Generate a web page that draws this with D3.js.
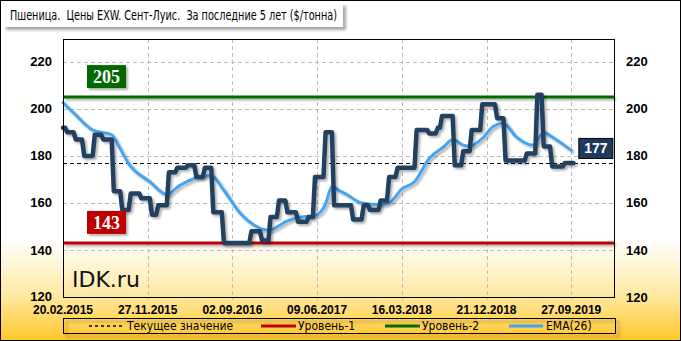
<!DOCTYPE html>
<html><head><meta charset="utf-8">
<script src="https://cdn.jsdelivr.net/npm/d3@7"></script>
<style>body{margin:0;background:#fff}svg{display:block}</style>
</head><body>
<script>
// ---------- DATA ----------
const titleText = "Пшеница.  Цены EXW. Сент-Луис.  За последние 5 лет ($/тонна)";
const tickWeeks = [0, 40, 80, 120, 160, 200, 240];
const tickLabels = ["20.02.2015", "27.11.2015", "02.09.2016", "09.06.2017", "16.03.2018", "21.12.2018", "27.09.2019"];
const yTicks = [120, 140, 160, 180, 200, 220];
// weekly price, $/t (week 0 = 20.02.2015)
const price = [
 192,192,190,190,190,190,187,187,187,187,
 180,180,180,180,180,189,189,189,189,187,
 187,187,187,187,165,165,165,165,157,157,
 157,157,164,164,164,164,164,162,162,162,
 162,162,155,155,155,159,159,159,159,159,
 173,173,173,173,175,175,175,175,175,176,
 176,176,176,171,171,171,171,175,175,175,
 175,156,156,156,156,156,143,143,143,143,
 143,143,143,143,143,143,143,143,143,148,
 148,148,148,148,144,144,144,144,154,154,
 154,154,161,161,161,161,156,156,156,156,
 156,152,152,152,152,152,154,154,154,171,
 171,171,171,171,190,190,190,190,159,159,
 159,159,159,159,159,159,159,153,153,153,
 153,153,159,159,159,157,157,157,157,157,
 161,161,161,161,171,171,171,171,175,175,
 175,175,175,175,175,175,175,191,191,191,
 191,191,191,189.5,189.5,189.5,189.5,192,192,197,
 197,197,197,197,197,176,176,176,176,182,
 182,182,182,191,191,191,191,191,202,202,
 202,202,202,202,202,196,196,196,196,178,
 178,178,178,178,178,178,178,178,178,181,
 181,181,181,181,206,206,206,184,184,184,
 184,175.5,175.5,175.5,175.5,175.5,175.5,177,177,177,
 177,177
];
const emaWeeks  = [0, 6, 14, 23, 27, 31, 41, 49, 55, 63, 70, 76, 84, 90, 97, 106, 112, 119, 124, 127, 130, 134, 141, 150, 154, 160, 166, 173, 180, 184, 189, 192, 198, 203, 208, 214, 222, 227, 232, 240];
const emaValues = [202.7, 197.4, 191, 189, 183, 176.7, 169, 163.6, 167.4, 170.7, 171.7, 165.3, 155.3, 150.7, 148.4, 152.4, 153.9, 154.6, 159.6, 167, 165.5, 163.6, 160, 159.3, 160, 166, 169, 179, 184, 187, 184.6, 184.1, 187.4, 192.4, 193.9, 188.1, 184.6, 189.9, 187.4, 182.4];
const level1 = 143, level2 = 205, currentValue = 177;
const legendItems = ["Текущее значение", "Уровень-1", "Уровень-2", "EMA(26)"];

// ---------- CHART ----------
const W = 681, H = 341;
const L = 63, R = 614, T = 39, B = 297;
const svg = d3.select("body").append("svg").attr("width", W).attr("height", H);
const defs = svg.append("defs");
const g1 = defs.append("linearGradient").attr("id", "bg").attr("x1", 0).attr("y1", 0).attr("x2", 0).attr("y2", 1);
g1.append("stop").attr("offset", 0.70).attr("stop-color", "#ffffff");
g1.append("stop").attr("offset", 0.86).attr("stop-color", "#ffeaa6");
g1.append("stop").attr("offset", 1).attr("stop-color", "#ffc628");
const f = defs.append("filter").attr("id", "sh").attr("x", "-5%").attr("y", "-20%").attr("width", "115%").attr("height", "160%");
f.append("feDropShadow").attr("dx", 2).attr("dy", 2).attr("stdDeviation", 1).attr("flood-color", "#000").attr("flood-opacity", 0.3);
const f2 = defs.append("filter").attr("id", "sh2").attr("x", "-5%").attr("y", "-20%").attr("width", "115%").attr("height", "160%");
f2.append("feDropShadow").attr("dx", 3).attr("dy", 3).attr("stdDeviation", 1.5).attr("flood-color", "#000").attr("flood-opacity", 0.35);

svg.append("rect").attr("width", W).attr("height", H).attr("fill", "url(#bg)");

const x = d3.scaleLinear().domain([0, 260.2]).range([L, R]);
const y = d3.scaleLinear().domain([120, 229.7]).range([B, T]);

// grid
const grid = svg.append("g").attr("stroke", "#bdbdbd").attr("stroke-width", 1).attr("stroke-dasharray", "4,3").attr("shape-rendering", "crispEdges");
grid.selectAll("line.h").data(yTicks.filter(d => d > 120)).join("line")
  .attr("x1", L).attr("x2", R).attr("y1", d => Math.round(y(d)) + 0.5).attr("y2", d => Math.round(y(d)) + 0.5);
grid.selectAll("line.v").data(tickWeeks.filter(d => d > 0)).join("line")
  .attr("x1", d => Math.round(x(d)) + 0.5).attr("x2", d => Math.round(x(d)) + 0.5).attr("y1", T).attr("y2", B + 3);

// levels
const lv = svg.append("g").attr("filter", "url(#sh)");
lv.append("line").attr("x1", L).attr("x2", R).attr("y1", y(level1)).attr("y2", y(level1)).attr("stroke", "#c00000").attr("stroke-width", 3);
lv.append("line").attr("x1", L).attr("x2", R).attr("y1", y(level2)).attr("y2", y(level2)).attr("stroke", "#006a00").attr("stroke-width", 3);

// current value dashed
svg.append("line").attr("x1", L).attr("x2", R).attr("y1", Math.round(y(currentValue)) + 0.5).attr("y2", Math.round(y(currentValue)) + 0.5)
  .attr("stroke", "#000").attr("stroke-width", 1).attr("stroke-dasharray", "4,3");

// EMA
const emaData = emaWeeks.map((w, i) => [w, emaValues[i]]);
svg.append("path").datum(emaData).attr("filter", "url(#sh)")
  .attr("d", d3.line().x(d => x(d[0])).y(d => y(d[1])).curve(d3.curveMonotoneX))
  .attr("fill", "none").attr("stroke", "#45a4f0").attr("stroke-width", 3).attr("stroke-linejoin", "round").attr("stroke-linecap", "round");

// price
svg.append("path").datum(price).attr("filter", "url(#sh)")
  .attr("d", d3.line().x((d, i) => x(i)).y(d => y(d)))
  .attr("fill", "none").attr("stroke", "#243f60").attr("stroke-width", 4.5).attr("stroke-linejoin", "round").attr("stroke-linecap", "round");

// level boxes
function levelBox(val, fill) {
  const by = y(val) - 9 - 23;
  const g = svg.append("g");
  g.append("rect").attr("x", 87).attr("y", by).attr("width", 39).attr("height", 23).attr("fill", fill).attr("filter", "url(#sh)");
  g.append("text").attr("x", 106.5).attr("y", by + 11.5).attr("dy", "0.36em").attr("text-anchor", "middle")
    .attr("font-family", "'Liberation Serif','DejaVu Serif',serif").attr("font-weight", "bold").attr("font-size", 18).attr("fill", "#fff").text(val);
}
levelBox(level2, "#006a00");
levelBox(level1, "#c00000");

// current value box
{
  const bx = x(price.length - 1) + 5, by = y(currentValue) - 25;
  svg.append("rect").attr("x", bx + 0.5).attr("y", by + 0.5).attr("width", 34).attr("height", 20).attr("fill", "#1f3a5f").attr("stroke", "#000").attr("stroke-width", 1);
  svg.append("text").attr("x", bx + 17.5).attr("y", by + 10.5).attr("dy", "0.36em").attr("text-anchor", "middle")
    .attr("font-family", "'Liberation Sans',Arial,sans-serif").attr("font-weight", "bold").attr("font-size", 14).attr("fill", "#fff").text(currentValue);
}

// plot border
svg.append("rect").attr("x", L + 0.5).attr("y", T + 0.5).attr("width", R - L).attr("height", B - T).attr("fill", "none").attr("stroke", "#000").attr("stroke-width", 1);

// axis labels
const axf = "'Liberation Sans',Arial,sans-serif";
const axL = svg.append("g").attr("font-family", axf).attr("font-weight", "bold").attr("font-size", 13).attr("fill", "#000");
axL.selectAll("text.l").data(yTicks).join("text").attr("x", 52).attr("y", d => y(d) - (d === 120 ? 1 : 0)).attr("dy", "0.35em").attr("text-anchor", "end").text(d => d);
axL.selectAll("text.r").data(yTicks).join("text").attr("x", 626).attr("y", d => y(d)).attr("dy", "0.35em").attr("text-anchor", "start").text(d => d);
const axB = svg.append("g").attr("font-family", axf).attr("font-weight", "bold").attr("font-size", 12).attr("fill", "#000");
axB.selectAll("text").data(tickWeeks).join("text").attr("x", d => x(d)).attr("y", 310).attr("dy", "0.35em").attr("text-anchor", "middle").text((d, i) => tickLabels[i]);

// watermark
svg.append("text").attr("x", 72).attr("y", 287).attr("font-family", "'DejaVu Sans',Verdana,sans-serif").attr("font-size", 22).attr("fill", "#111").text("IDK.ru");

// legend
const lg = svg.append("g");
lg.append("rect").attr("x", 63.5).attr("y", 318.5).attr("width", 552).attr("height", 15).attr("fill", "none").attr("stroke", "#000").attr("filter", "url(#sh2)");
lg.append("rect").attr("x", 63.5).attr("y", 318.5).attr("width", 552).attr("height", 15).attr("fill", "none").attr("stroke", "#000");
const ly = 326;
const samples = [
  {x1: 89, x2: 122, color: "#000", w: 1.5, dash: "3,3", tx: 127},
  {x1: 261, x2: 296, color: "#c00000", w: 3, dash: null, tx: 298},
  {x1: 385, x2: 420, color: "#006a00", w: 3, dash: null, tx: 422},
  {x1: 509, x2: 543, color: "#45a4f0", w: 3, dash: null, tx: 546}
];
samples.forEach((s, i) => {
  lg.append("line").attr("x1", s.x1).attr("x2", s.x2).attr("y1", ly).attr("y2", ly).attr("stroke", s.color).attr("stroke-width", s.w).attr("stroke-dasharray", s.dash);
  lg.append("text").attr("x", s.tx).attr("y", ly).attr("dy", "0.35em").attr("font-family", "'DejaVu Sans Condensed','DejaVu Sans',sans-serif").attr("font-size", 12).attr("fill", "#000").text(legendItems[i]);
});

// title
svg.append("rect").attr("x", 3).attr("y", 3).attr("width", 340).attr("height", 24).attr("fill", "#fff").attr("filter", "url(#sh2)");
svg.append("text").attr("x", 10).attr("y", 15).attr("dy", "0.36em").attr("font-family", "'DejaVu Sans Condensed','DejaVu Sans',sans-serif")
  .attr("font-size", 14).attr("fill", "#000").attr("textLength", 327).attr("lengthAdjust", "spacingAndGlyphs").style("white-space", "pre").text(titleText);

// outer border
svg.append("rect").attr("x", 0.5).attr("y", 0.5).attr("width", W - 1).attr("height", H - 1).attr("fill", "none").attr("stroke", "#000");
</script>
</body></html>
